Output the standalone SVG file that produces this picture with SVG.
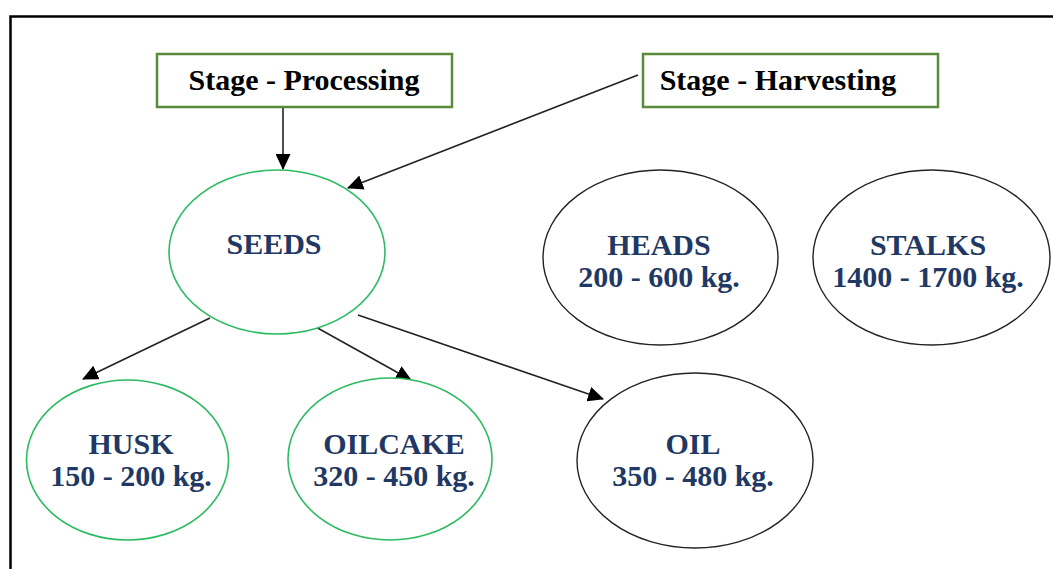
<svg xmlns="http://www.w3.org/2000/svg" width="1053" height="569" viewBox="0 0 1053 569">
  <style>
    .frame { fill: none; stroke: #000; stroke-width: 2.5; }
    .stage rect { fill: #fff; stroke: #5a8a3a; stroke-width: 2.5; }
    .stage text { font-family: "Liberation Serif", "Times New Roman", serif; font-weight: bold; font-size: 30px; fill: #000; text-anchor: middle; }
    .green ellipse { fill: #fff; stroke: #2dbb62; stroke-width: 1.6; }
    .plain ellipse { fill: #fff; stroke: #222; stroke-width: 1.4; }
    .node text { font-family: "Liberation Serif", "Times New Roman", serif; font-weight: bold; font-size: 30px; fill: #1f3864; text-anchor: middle; }
    .links line { stroke: #222; stroke-width: 1.6; marker-end: url(#arrow); }
  </style>
  <defs>
    <marker id="arrow" markerUnits="userSpaceOnUse" markerWidth="17" markerHeight="15" refX="15" refY="7.5" orient="auto">
      <path d="M0,0 L16,7.5 L0,15 Z" fill="#000"/>
    </marker>
  </defs>

  <rect width="1053" height="569" fill="#fff"/>
  <!-- page frame, open to the right and bottom -->
  <path class="frame" d="M10.5,569 V16.5 H1053"/>

  <!-- connectors -->
  <g id="connectors" class="links">
    <line x1="283" y1="108" x2="283" y2="169"/>
    <line x1="638" y1="75" x2="348" y2="188"/>
    <line x1="210" y1="318" x2="83" y2="379"/>
    <line x1="314" y1="326" x2="411" y2="380"/>
    <line x1="358" y1="315" x2="603" y2="399"/>
  </g>

  <g id="stage-processing" class="stage">
    <rect x="157" y="54" width="295" height="53"/>
    <text x="304" y="90">Stage - Processing</text>
  </g>

  <g id="stage-harvesting" class="stage">
    <rect x="643" y="54" width="295" height="53"/>
    <text x="778" y="90">Stage - Harvesting</text>
  </g>

  <g id="seeds" class="node green">
    <ellipse cx="277" cy="252" rx="108" ry="82"/>
    <text x="274" y="254">SEEDS</text>
  </g>

  <g id="husk" class="node green">
    <ellipse cx="127.5" cy="460" rx="101" ry="80"/>
    <text x="131" y="454">HUSK</text>
    <text x="131" y="486">150 - 200 kg.</text>
  </g>

  <g id="oilcake" class="node green">
    <ellipse cx="390" cy="459" rx="102" ry="81"/>
    <text x="394" y="454">OILCAKE</text>
    <text x="394" y="486">320 - 450 kg.</text>
  </g>

  <g id="oil" class="node plain">
    <ellipse cx="695" cy="460.5" rx="118" ry="87.5"/>
    <text x="693" y="454">OIL</text>
    <text x="693" y="486">350 - 480 kg.</text>
  </g>

  <g id="heads" class="node plain">
    <ellipse cx="660.5" cy="257.5" rx="117.5" ry="87.5"/>
    <text x="659" y="255">HEADS</text>
    <text x="659" y="287">200 - 600 kg.</text>
  </g>

  <g id="stalks" class="node plain">
    <ellipse cx="931.5" cy="257.5" rx="118.5" ry="87.5"/>
    <text x="928" y="255">STALKS</text>
    <text x="928" y="287">1400 - 1700 kg.</text>
  </g>
</svg>
